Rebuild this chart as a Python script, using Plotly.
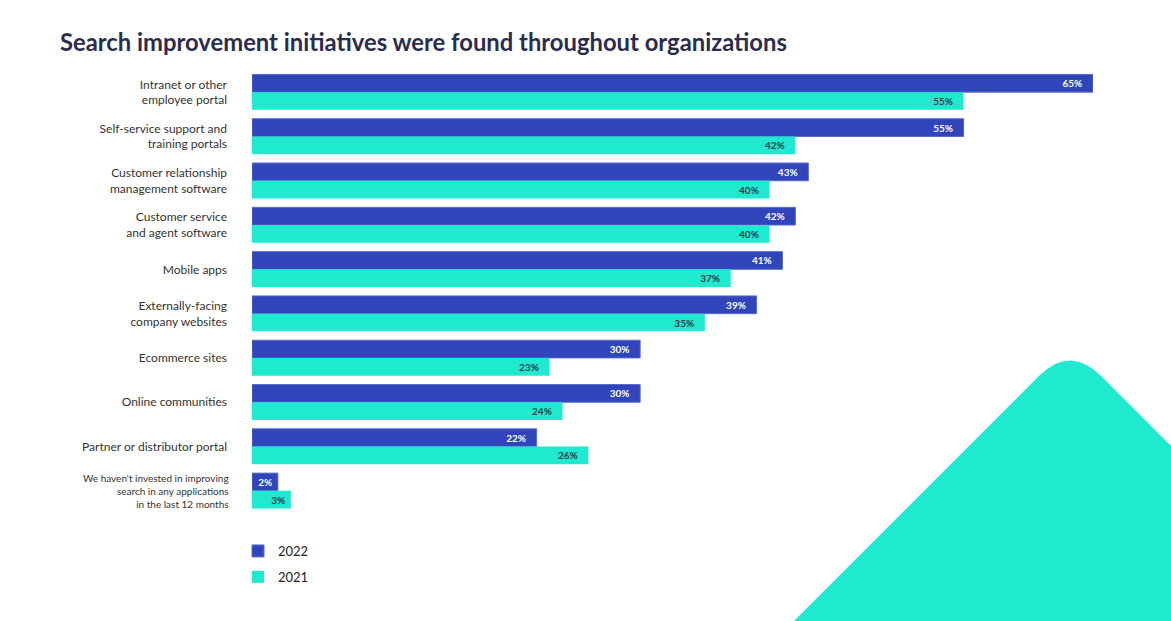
import plotly.graph_objects as go

categories = [
    "Intranet or other<br>employee portal",
    "Self-service support and<br>training portals",
    "Customer relationship<br>management software",
    "Customer service<br>and agent software",
    "Mobile apps",
    "Externally-facing<br>company websites",
    "Ecommerce sites",
    "Online communities",
    "Partner or distributor portal",
    "We haven't invested in improving<br>search in any applications<br>in the last 12 months",
]
values_2022 = [65, 55, 43, 42, 41, 39, 30, 30, 22, 2]
values_2021 = [55, 42, 40, 40, 37, 35, 23, 24, 26, 3]

BLUE = "#2F45B9"
TEAL = "#1FE9CF"
FONT = "Lato"

W, H = 1171, 621
L, R, T, B = 252, 78, 70, 108
PW, PH = W - L - R, H - T - B

def px(x, y):
    return (x - L) / PW, 1 - (y - T) / PH

def label(v):
    pad = "\u00a0" if v < 5 else "\u00a0\u00a0\u00a0"
    return f"<b>{v}%</b>{pad}"

fig = go.Figure()
fig.add_trace(go.Bar(
    name="2022", y=categories, x=values_2022, orientation="h",
    marker=dict(color=BLUE, line=dict(color="#5a6bcc", width=1)),
    text=[label(v) for v in values_2022],
    textposition="inside", insidetextanchor="end", constraintext="none",
    textfont=dict(family=FONT, size=10, color="white"),
    legendgroup="a", hoverinfo="x+y",
))
fig.add_trace(go.Bar(
    name="2021", y=categories, x=values_2021, orientation="h",
    marker=dict(color=TEAL, line=dict(width=0)),
    text=[label(v) for v in values_2021],
    textposition="inside", insidetextanchor="end", constraintext="none",
    textfont=dict(family=FONT, size=10, color="#263a4c"),
    legendgroup="b", hoverinfo="x+y",
))

# tick labels: all but the last (smaller, three lines) via the axis
ticktext = categories[:-1] + [""]

# decorative rounded triangle (background motif): edges at 45 degrees
r = 44
ax, ay = 1070, 345
d = r / 2 ** 0.5
p0 = px(1415 - 660, 660)
p1 = px(ax - d, ay + d)
pc = px(ax, ay)
p2 = px(ax + d, ay + d)
p3 = px(1400, 1400 - 725)
p4 = px(1400, 660)
path = (f"M{p0[0]},{p0[1]} L{p1[0]},{p1[1]} Q{pc[0]},{pc[1]} {p2[0]},{p2[1]} "
        f"L{p3[0]},{p3[1]} L{p4[0]},{p4[1]} Z")

fig.update_layout(
    width=W, height=H,
    margin=dict(l=L, r=R, t=T, b=B, pad=0),
    paper_bgcolor="white", plot_bgcolor="rgba(0,0,0,0)",
    barmode="group", bargap=0.2, bargroupgap=0,
    uniformtext=dict(minsize=10, mode="show"),
    font=dict(family=FONT, color="#333333"),
    title=dict(
        text="<b>Search improvement initiatives were found throughout organizations</b>",
        x=60 / W, xanchor="left", xref="container",
        y=1 - 43 / H, yanchor="middle", yref="container",
        font=dict(family=FONT, size=23.8, color="#2b2d4f"),
    ),
    xaxis=dict(range=[0, 65], visible=False, fixedrange=True),
    yaxis=dict(
        autorange="reversed", showgrid=False, zeroline=False, showline=False,
        ticks="", ticklabelstandoff=24,
        tickmode="array", tickvals=categories, ticktext=ticktext,
        tickfont=dict(family=FONT, size=12, color="#333333"),
        fixedrange=True,
    ),
    annotations=[dict(
        text=categories[-1], xref="paper", yref="y", x=-21 / PW, y=categories[-1],
        xanchor="right", yanchor="middle", align="right", showarrow=False,
        font=dict(family=FONT, size=10, color="#333333"),
    )],
    legend=dict(
        x=-14 / PW, xanchor="left", y=px(0, 536)[1], yanchor="top",
        traceorder="grouped", tracegroupgap=6,
        font=dict(family=FONT, size=13, color="#222222"),
        bgcolor="rgba(0,0,0,0)",
    ),
    shapes=[dict(type="path", xref="paper", yref="paper", path=path,
                 fillcolor=TEAL, line=dict(width=0), layer="below")],
)

fig.write_html("out.html")
